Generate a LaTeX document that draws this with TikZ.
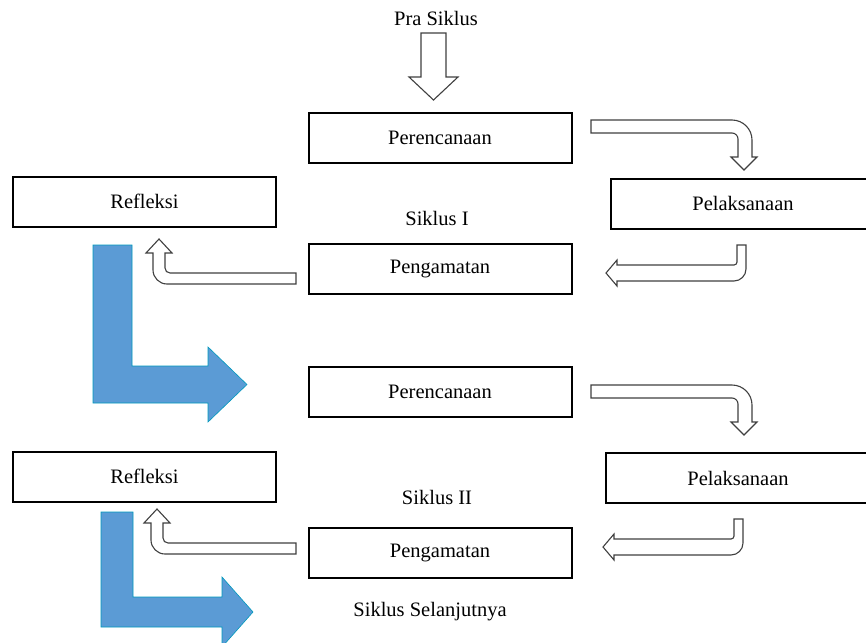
\documentclass[tikz,border=0pt]{standalone}
\usepackage{fontspec}
\setmainfont{Liberation Serif}
\begin{document}
\begin{tikzpicture}[x=1pt,y=-1pt,
  box/.style={draw=black,line width=2pt,fill=white,minimum width=263pt,minimum height=50pt,inner sep=0pt,font=\fontsize{20.5}{24}\selectfont},
  lbl/.style={inner sep=0pt,font=\fontsize{20.5}{24}\selectfont},
  blockarrow/.style={draw=black!75,line width=1.1pt,fill=white,line join=miter},
  bluearrow/.style={draw=blue!35!black!40!cyan,line width=0.6pt,fill=officeblue}]
\definecolor{officeblue}{HTML}{5B9BD5}
\useasboundingbox (0,0) rectangle (866,642);
\clip (0,0) rectangle (866,642);
\fill[white] (0,0) rectangle (866,642);

% boxes
\node[box] (per1) at (440,137.5) {Perencanaan};
\node[box] (ref1) at (144.5,201.5) {Refleksi};
\node[box,minimum width=264pt] (pel1) at (743,203.5) {Pelaksanaan};
\node[box] (pen1) at (440,268.5) {Pengamatan};
\node[box] (per2) at (440,391.5) {Perencanaan};
\node[box] (ref2) at (144.5,476.5) {Refleksi};
\node[box,minimum width=264pt] (pel2) at (738,478) {Pelaksanaan};
\node[box] (pen2) at (440,552.5) {Pengamatan};

% labels
\node[lbl] (pra) at (436,18) {Pra Siklus};
\node[lbl] (s1) at (437,218) {Siklus I};
\node[lbl] (s2) at (437,497) {Siklus II};
\node[lbl] (s3) at (430,612) {Siklus Selanjutnya};

% down arrow from Pra Siklus
\draw[blockarrow] (421,33) -- (446,33) -- (446,77) -- (458,77) -- (433.5,100) -- (409,77) -- (421,77) -- cycle;

% cycle I bent arrows
\draw[blockarrow] (591,120) -- (732,120) .. controls (743,120) and (752,129) .. (752,140) -- (752,157) -- (757,157) -- (744,170) -- (731,157) -- (738,157) -- (738,139) .. controls (738,135.7) and (735.3,133) .. (732,133) -- (591,133) -- cycle;
\draw[blockarrow] (737,245) -- (746,245) -- (746,269) .. controls (746,275.6) and (740.6,281) .. (734,281) -- (617,281) -- (617,286) -- (606,273) -- (617,260) -- (617,265) -- (734,265) .. controls (735.7,265) and (737,263.7) .. (737,262) -- cycle;
\draw[blockarrow] (296,273) -- (170,273) .. controls (167.2,273) and (165,270.8) .. (165,268) -- (165,253) -- (172,253) -- (159,239) -- (146,253) -- (153,253) -- (153,270) .. controls (153,277.7) and (159.3,284) .. (167,284) -- (296,284) -- cycle;

% cycle II bent arrows
\begin{scope}[shift={(0,265)}]
\draw[blockarrow] (591,120) -- (732,120) .. controls (743,120) and (752,129) .. (752,140) -- (752,157) -- (757,157) -- (744,170) -- (731,157) -- (738,157) -- (738,139) .. controls (738,135.7) and (735.3,133) .. (732,133) -- (591,133) -- cycle;
\end{scope}
\begin{scope}[shift={(-3,274)}]
\draw[blockarrow] (737,245) -- (746,245) -- (746,269) .. controls (746,275.6) and (740.6,281) .. (734,281) -- (617,281) -- (617,286) -- (606,273) -- (617,260) -- (617,265) -- (734,265) .. controls (735.7,265) and (737,263.7) .. (737,262) -- cycle;
\end{scope}
\begin{scope}[shift={(-2,270)}]
\draw[blockarrow] (298,273) -- (170,273) .. controls (167.2,273) and (165,270.8) .. (165,268) -- (165,253) -- (172,253) -- (159,239) -- (146,253) -- (153,253) -- (153,270) .. controls (153,277.7) and (159.3,284) .. (167,284) -- (298,284) -- cycle;
\end{scope}

% blue L arrows
\draw[bluearrow] (93,245) -- (132,245) -- (132,366) -- (208,366) -- (208,347) -- (247,384.5) -- (208,422) -- (208,403) -- (93,403) -- cycle;
\draw[bluearrow] (101,512) -- (133,512) -- (133,597) -- (222,597) -- (222,577) -- (253,612) -- (222,647) -- (222,627) -- (101,627) -- cycle;
\end{tikzpicture}
\end{document}
